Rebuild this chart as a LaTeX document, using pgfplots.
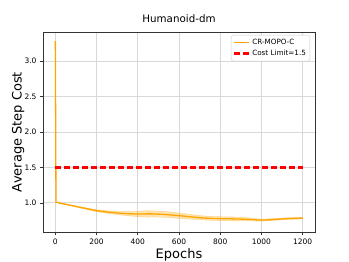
\documentclass[border=0pt]{standalone}
\usepackage{fontspec}
\setmainfont{DejaVu Sans}
\usepackage{pgfplots}
\pgfplotsset{compat=1.18}
\usepgfplotslibrary{fillbetween}
\definecolor{mplorange}{HTML}{FFA500}
\begin{document}
\begin{tikzpicture}
\begin{axis}[
  scale only axis,
  width=272bp, height=200bp,
  xmin=-60, xmax=1260,
  ymin=0.59, ymax=3.41,
  xtick={0,200,400,600,800,1000,1200},
  ytick={1.0,1.5,2.0,2.5,3.0},
  xtick pos=bottom, ytick pos=left,
  xticklabel style={/pgf/number format/.cd,1000 sep={}},
  yticklabel style={/pgf/number format/.cd,fixed,fixed zerofill,precision=1},
  /pgf/number format/assume math mode=true,
  ticklabel style={font=\fontsize{7.5bp}{8bp}\selectfont},
  tick align=outside,
  major tick length=3bp,
  tick style={black!80, line width=0.6pt},
  axis line style={black!80, line width=0.7pt},
  grid=major,
  grid style={black!15, line width=0.9pt},
  title={Humanoid-dm},
  title style={font=\fontsize{10.3bp}{11bp}\selectfont, yshift=0bp},
  xlabel={Epochs},
  ylabel={Average Step Cost},
  label style={font=\fontsize{13bp}{14bp}\selectfont},
  xlabel style={yshift=2bp},
  ylabel style={yshift=-6.5bp},
  legend image code/.code={\draw[#1] (0bp,0bp) -- (15bp,0bp);},
  legend style={at={(0.982,0.985)}, anchor=north east, font=\fontsize{7.2bp}{8bp}\selectfont,
    draw=black!20, rounded corners=1.5pt, inner sep=2pt, row sep=0pt},
  legend cell align=left,
]
\addplot[mplorange, line width=1.3pt] coordinates {
(0,3.28) (3,1.01) (25,0.995) (50,0.98) (75,0.965) (100,0.95) (125,0.935) (150,0.92) (175,0.905)
(200,0.89) (225,0.881) (250,0.872) (275,0.866) (300,0.858) (325,0.853) (350,0.848) (375,0.846)
(400,0.842) (425,0.844) (450,0.846) (475,0.845) (500,0.842) (525,0.838) (550,0.833) (575,0.826)
(600,0.820) (625,0.814) (650,0.806) (675,0.799) (700,0.792) (725,0.787) (750,0.783) (775,0.780)
(800,0.778) (825,0.777) (850,0.776) (875,0.774) (900,0.772) (925,0.770) (950,0.766) (975,0.761)
(1000,0.758) (1025,0.760) (1050,0.765) (1075,0.770) (1100,0.774) (1125,0.778) (1150,0.781)
(1175,0.785) (1200,0.786)
};
\addlegendentry{CR-MOPO-C}
\addplot[color=red, line width=2.2pt, dash pattern=on 6bp off 3bp] coordinates {(0,1.5) (1200,1.5)};
\addlegendentry{Cost Limit=1.5}
\addplot[name path=up, draw=mplorange, draw opacity=0.4, line width=0.4pt, forget plot] coordinates {
(3,1.012) (25,0.998) (50,0.985) (75,0.971) (100,0.957) (125,0.944) (150,0.930) (175,0.917)
(200,0.904) (225,0.897) (250,0.890) (275,0.886) (300,0.880) (325,0.878) (350,0.876) (375,0.879)
(400,0.880) (425,0.888) (450,0.893) (475,0.887) (500,0.886) (525,0.880) (550,0.874) (575,0.867)
(600,0.858) (625,0.850) (650,0.840) (675,0.830) (700,0.823) (725,0.815) (750,0.812) (775,0.808)
(800,0.806) (825,0.804) (850,0.805) (875,0.800) (900,0.796) (925,0.792) (950,0.786) (975,0.778)
(1000,0.773) (1025,0.774) (1050,0.778) (1075,0.783) (1100,0.786) (1125,0.790) (1150,0.793)
(1175,0.798) (1200,0.797)
};
\addplot[name path=lo, draw=mplorange, draw opacity=0.4, line width=0.4pt, forget plot] coordinates {
(3,1.008) (25,0.992) (50,0.975) (75,0.959) (100,0.943) (125,0.926) (150,0.910) (175,0.893)
(200,0.876) (225,0.865) (250,0.854) (275,0.846) (300,0.836) (325,0.828) (350,0.820) (375,0.813)
(400,0.806) (425,0.802) (450,0.800) (475,0.803) (500,0.800) (525,0.797) (550,0.793) (575,0.786)
(600,0.782) (625,0.778) (650,0.772) (675,0.768) (700,0.762) (725,0.759) (750,0.755) (775,0.752)
(800,0.750) (825,0.750) (850,0.748) (875,0.747) (900,0.748) (925,0.748) (950,0.746) (975,0.744)
(1000,0.743) (1025,0.746) (1050,0.752) (1075,0.757) (1100,0.762) (1125,0.766) (1150,0.769)
(1175,0.772) (1200,0.775)
};
\addplot[mplorange, fill opacity=0.3, forget plot] fill between[of=up and lo];
\end{axis}
\pgfresetboundingbox
\path ([shift={(-43bp,-30bp)}]current axis.south west) rectangle ([shift={(34bp,32bp)}]current axis.north east);
\end{tikzpicture}
\end{document}
